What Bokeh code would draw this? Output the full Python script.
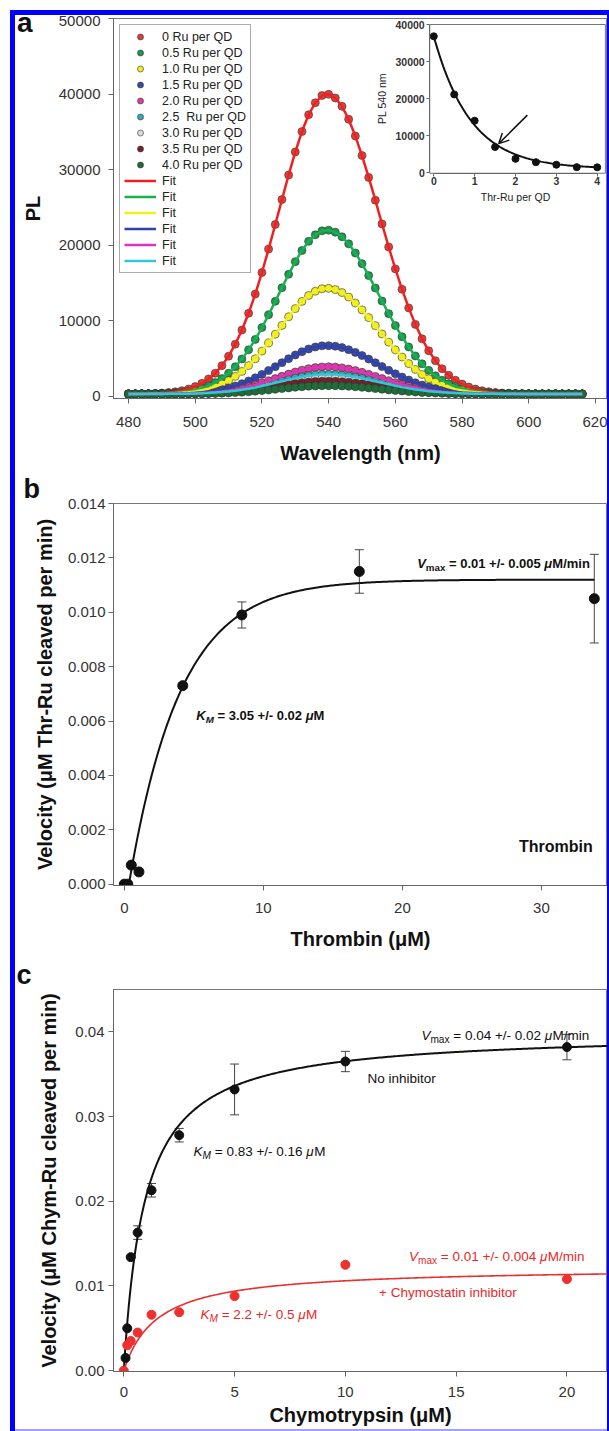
import numpy as np
from bokeh.plotting import figure
from bokeh.models import (Range1d, LinearAxis, FixedTicker, NumeralTickFormatter, Legend,
                          LegendItem, Label, Whisker, TeeHead, ColumnDataSource, Arrow,
                          OpenHead, Div, Title, GridBox)
from bokeh.layouts import column, row
from bokeh.embed import file_html
from bokeh.resources import INLINE

FONT = "Liberation Sans"

# ---------------- panel a: PL spectra ----------------
wavelength_nm = list(range(480, 617, 2))
pl_profile = [0.0002, 0.0004, 0.0007, 0.0011, 0.0018, 0.0029, 0.0047, 0.0073, 0.0111, 0.0166,
              0.0245, 0.0354, 0.0500, 0.0693, 0.0944, 0.126, 0.166, 0.213, 0.269, 0.333,
              0.405, 0.483, 0.565, 0.648, 0.730, 0.807, 0.875, 0.931, 0.971, 0.995,
              0.999, 0.987, 0.959, 0.916, 0.860, 0.795, 0.722, 0.646, 0.567, 0.490,
              0.417, 0.349, 0.287, 0.232, 0.184, 0.144, 0.111, 0.084, 0.0625, 0.0457,
              0.0329, 0.0233, 0.0162, 0.0111, 0.0075, 0.0050, 0.0032, 0.0021, 0.0013, 0.0008,
              0.0005, 0.0003, 0.0002, 0.0001, 0.0001, 0.0, 0.0, 0.0, 0.0]
ru_labels = ["0 Ru per QD", "0.5 Ru per QD", "1.0 Ru per QD", "1.5 Ru per QD", "2.0 Ru per QD",
             "2.5  Ru per QD", "3.0 Ru per QD", "3.5 Ru per QD", "4.0 Ru per QD"]
pl_peak = [39700, 21700, 14000, 6400, 3600, 2600, 2100, 1700, 1100]
pl_baseline = 300
marker_colors = ["#e0403c", "#1a9a50", "#f2ee20", "#3a4ca0", "#d8409c", "#3aa8b0",
                 "#dcdcd4", "#7a1e2c", "#1f6e3a"]
fit_colors = ["#f02020", "#18b050", "#f0f020", "#3040b0", "#e030c0", "#30c8d8"]
a_x_ticks = [480, 500, 520, 540, 560, 580, 600, 620]
a_y_ticks = [0, 10000, 20000, 30000, 40000, 50000]

# inset
ru_per_qd = [0, 0.5, 1.0, 1.5, 2.0, 2.5, 3.0, 3.5, 4.0]
pl_540 = [36800, 21100, 14000, 6900, 3700, 2800, 2100, 1450, 1400]
inset_fit_amp, inset_fit_decay, inset_fit_offset = 35800, 0.9, 1000
inset_x_ticks = [0, 1, 2, 3, 4]
inset_y_ticks = [0, 10000, 20000, 30000, 40000]
arrow_tail = (2.29, 15500)
arrow_head = (1.59, 7800)

# ---------------- panel b: thrombin ----------------
thrombin_um = [0, 0.25, 0.5, 1.05, 4.2, 8.45, 16.9, 33.8]
velocity_thr = [0, 0, 0.0007, 0.00045, 0.0073, 0.0099, 0.0115, 0.0105]
err_thr = [0, 0, 0, 0, 0.0001, 0.00048, 0.0008, 0.00163]
thr_fit_vmax, thr_fit_lag, thr_fit_tau = 0.0112, 0.33, 3.7
b_x_ticks = [0, 10, 20, 30]
b_y_ticks = [0, 0.002, 0.004, 0.006, 0.008, 0.010, 0.012, 0.014]

# ---------------- panel c: chymotrypsin ----------------
chymo_um = [0.078, 0.156, 0.3125, 0.625, 1.25, 2.5, 5, 10, 20]
vel_no_inh = [0.0015, 0.0050, 0.0134, 0.0163, 0.0213, 0.0278, 0.0332, 0.0365, 0.0382]
err_no_inh = [0, 0, 0, 0.0008, 0.0008, 0.0008, 0.003, 0.0012, 0.0015]
chymo_inh_um = [0, 0.156, 0.3125, 0.625, 1.25, 2.5, 5, 10, 20]
vel_inh = [0, 0.0030, 0.0035, 0.0045, 0.0066, 0.0069, 0.0088, 0.0125, 0.0108]
fit_no_inh_vmax, fit_no_inh_km = 0.0400, 0.95
fit_inh_vmax, fit_inh_km = 0.0122, 1.5
c_x_ticks = [0, 5, 10, 15, 20]
c_y_ticks = [0, 0.01, 0.02, 0.03, 0.04]

RED_TXT = "#e82828"

# ---------------- helpers ----------------
W_REG = {" ": 278, "+": 584, "-": 333, ".": 278, "/": 278, "=": 584, "M": 833, "V": 667,
         "K": 667, "a": 556, "i": 222, "m": 833, "n": 556, "x": 500, "\u03bc": 576}
W_BOLD = {" ": 278, "+": 584, "-": 333, ".": 278, "/": 278, "=": 584, "M": 833, "V": 667,
          "K": 722, "a": 556, "i": 278, "m": 889, "n": 611, "x": 556, "\u03bc": 611}


def text_width(s, size, bold):
    t = W_BOLD if bold else W_REG
    return sum(t.get(ch, 556) for ch in s) * size / 1000.0


def rich_label(p, x, y, pieces, color, size, bold):
    off = 0.0
    for text, kind in pieces:
        sub = kind.startswith("sub")
        ital = kind.endswith("i")
        fs = size * 0.75 if sub else size
        style = ("bold " if bold else "") + ("italic" if ital else "")
        style = style.strip() or "normal"
        lead = len(text) - len(text.lstrip(" "))
        off += text_width(" " * lead, fs, bold)
        body = text.lstrip(" ")
        p.add_layout(Label(x=x, y=y, x_offset=off, y_offset=(-4 if sub else 0), text=body,
                           text_font=FONT, text_font_size=f"{fs}px", text_font_style=style,
                           text_color=color, text_baseline="middle", text_align="left"))
        off += text_width(body, fs, bold)


def panel_title(p, letter, offset):
    p.add_layout(Title(text=letter, align="left", offset=offset, standoff=0,
                       text_font=FONT, text_font_size="27px", text_font_style="bold",
                       text_color="#111"), "above")


def style_axis(ax, standoff=8, label_standoff=10, ticks=None, fmt=None):
    ax.axis_line_color = "#666"
    ax.major_tick_line_color = "#666"
    ax.minor_tick_line_color = None
    ax.major_tick_out = 5
    ax.major_tick_in = 0
    ax.major_label_text_font = FONT
    ax.major_label_text_font_size = "15px"
    ax.major_label_text_color = "#333"
    ax.major_label_standoff = standoff
    ax.axis_label_text_font = FONT
    ax.axis_label_text_font_size = "20px"
    ax.axis_label_text_font_style = "bold"
    ax.axis_label_text_color = "#111"
    ax.axis_label_standoff = label_standoff
    if ticks is not None:
        ax.ticker = FixedTicker(ticks=ticks)
    if fmt is not None:
        ax.formatter = NumeralTickFormatter(format=fmt)


def make_fig(h, xr, yr, left, top, bottom):
    p = figure(width=592, height=h, x_range=Range1d(*xr), y_range=Range1d(*yr),
               output_backend="svg", toolbar_location=None, min_border_left=left,
               min_border_right=0, min_border_top=top, min_border_bottom=bottom)
    p.grid.visible = False
    p.outline_line_color = "#777"
    p.outline_line_width = 1
    p.background_fill_color = "white"
    p.border_fill_color = "white"
    return p


# ================= panel a =================
pa = make_fig(455, (475.5, 623.6), (-300, 50000), 98, 3, 72)
style_axis(pa.below[0], standoff=13, label_standoff=12, ticks=a_x_ticks, fmt="0")
style_axis(pa.left[0], standoff=8, label_standoff=12, ticks=a_y_ticks, fmt="0")
pa.below[0].axis_label = "Wavelength (nm)"
pa.left[0].axis_label = "PL"

wl = np.array(wavelength_nm, dtype=float)
prof = np.array(pl_profile)
items = []
for lab, amp, col in zip(ru_labels, pl_peak, marker_colors):
    r = pa.scatter(wl, pl_baseline + amp * prof, size=8, fill_color=col, line_color="#333",
                   line_width=0.6)
    items.append(LegendItem(label=lab, renderers=[r]))
for amp, col in zip(pl_peak[:6], fit_colors):
    r = pa.line(wl, pl_baseline + amp * prof, line_color=col, line_width=2.5)
    items.append(LegendItem(label="Fit", renderers=[r]))

legend = Legend(items=items, location="top_left", margin=6, padding=4, spacing=1,
                label_height=15, glyph_height=15, glyph_width=32, label_standoff=6,
                label_text_font=FONT, label_text_font_size="12.5px", label_text_color="#222",
                border_line_color="#555", border_line_width=1, background_fill_alpha=1)
pa.add_layout(legend)

# inset via extra ranges
pa.extra_x_ranges = {"ix": Range1d(-7.841, 4.252)}
pa.extra_y_ranges = {"iy": Range1d(-61081, 41622)}
pa.quad(left=[-0.1], right=[4.2], bottom=[-200], top=[40000], x_range_name="ix",
        y_range_name="iy", fill_color="white", line_color="#777", line_width=1)
ix_fit = np.linspace(0, 4, 120)
pa.line(ix_fit, inset_fit_amp * np.exp(-ix_fit / inset_fit_decay) + inset_fit_offset,
        x_range_name="ix", y_range_name="iy", line_color="#111", line_width=2)
pa.scatter(ru_per_qd, pl_540, size=7, fill_color="#111", line_color="#111",
           x_range_name="ix", y_range_name="iy")
pa.add_layout(Arrow(end=OpenHead(size=10, line_width=1.5, line_color="#111"),
                    x_start=arrow_tail[0], y_start=arrow_tail[1],
                    x_end=arrow_head[0], y_end=arrow_head[1], line_width=1.5,
                    line_color="#111", x_range_name="ix", y_range_name="iy"))


def style_inset_axis(ax, ticks, label, standoff, lstandoff):
    ax.ticker = FixedTicker(ticks=ticks)
    ax.formatter = NumeralTickFormatter(format="0")
    ax.axis_line_color = "#666"
    ax.major_tick_line_color = "#666"
    ax.minor_tick_line_color = None
    ax.major_tick_out = 3
    ax.major_tick_in = 0
    ax.major_label_text_font = FONT
    ax.major_label_text_font_size = "10.5px"
    ax.major_label_text_font_style = "bold"
    ax.major_label_text_color = "#333"
    ax.major_label_standoff = standoff
    ax.axis_label = label
    ax.axis_label_text_font = FONT
    ax.axis_label_text_font_size = "10.5px"
    ax.axis_label_text_font_style = "normal"
    ax.axis_label_text_color = "#222"
    ax.axis_label_standoff = lstandoff


iy_axis = LinearAxis(x_range_name="ix", y_range_name="iy", fixed_location=-0.1,
                     bounds=(0, 40000))
style_inset_axis(iy_axis, inset_y_ticks, "PL 540 nm", 2, 4)
ix_axis = LinearAxis(x_range_name="ix", y_range_name="iy", fixed_location=-200, bounds=(0, 4))
style_inset_axis(ix_axis, inset_x_ticks, "Thr-Ru per QD", 1, 2)
pa.add_layout(iy_axis, "left")
pa.add_layout(ix_axis, "below")

# panel letter "a" overlaid on the top-left corner of panel a
letter_a = Div(text="<div style=\"font: bold 28px/16px 'Liberation Sans', Arial, sans-serif; "
                    "color: #111;\">a</div>", width=30, height=30, margin=(0, 0, 0, 2))
panel_a = GridBox(children=[(pa, 0, 0), (letter_a, 0, 0)])

# ================= panel b =================
pb = make_fig(487, (-0.78, 34.75), (-0.00005, 0.014), 91, 33, 72)
style_axis(pb.below[0], standoff=12, label_standoff=12, ticks=b_x_ticks, fmt="0")
style_axis(pb.left[0], standoff=3, label_standoff=9, ticks=b_y_ticks, fmt="0.000")
pb.below[0].axis_label = "Thrombin (\u03bcM)"
pb.left[0].axis_label = "Velocity (\u03bcM Thr-Ru cleaved per min)"

xb = np.linspace(thr_fit_lag, 33.8, 300)
pb.line(xb, thr_fit_vmax * (1 - np.exp(-(xb - thr_fit_lag) / thr_fit_tau)),
        line_color="#111", line_width=2)
eb = [(x, y, e) for x, y, e in zip(thrombin_um, velocity_thr, err_thr) if e > 0]
src_b = ColumnDataSource(dict(x=[t[0] for t in eb], upper=[t[1] + t[2] for t in eb],
                              lower=[t[1] - t[2] for t in eb]))
pb.add_layout(Whisker(source=src_b, base="x", upper="upper", lower="lower",
                      line_color="#444", line_width=1,
                      upper_head=TeeHead(size=9, line_color="#444", line_width=1),
                      lower_head=TeeHead(size=9, line_color="#444", line_width=1)))
pb.scatter(thrombin_um, velocity_thr, size=10, fill_color="#111", line_color="#111")

rich_label(pb, 21.06, 0.01179, [("V", "i"), ("max", "sub"), (" = 0.01 +/- 0.005 ", "n"),
                                ("\u03bc", "i"), ("M/min", "n")], "#111", 13, True)
rich_label(pb, 5.18, 0.00619, [("K", "i"), ("M", "subi"), (" = 3.05 +/- 0.02 ", "n"),
                               ("\u03bc", "i"), ("M", "n")], "#111", 13, True)
pb.add_layout(Label(x=33.69, y=0.0014, text="Thrombin", text_font=FONT, text_font_size="16px",
                    text_font_style="bold", text_color="#111", text_align="right",
                    text_baseline="middle"))
panel_title(pb, "b", -90)

# ================= panel c =================
pc = make_fig(472, (-0.465, 21.83), (-0.0001, 0.045), 98, 32, 58)
style_axis(pc.below[0], standoff=10, label_standoff=4, ticks=c_x_ticks, fmt="0")
style_axis(pc.left[0], standoff=4, label_standoff=12, ticks=c_y_ticks, fmt="0.00")
pc.below[0].axis_label = "Chymotrypsin (\u03bcM)"
pc.left[0].axis_label = "Velocity (\u03bcM Chym-Ru cleaved per min)"

xc = np.linspace(0, 21.83, 400)
pc.line(xc, fit_no_inh_vmax * xc / (fit_no_inh_km + xc), line_color="#111", line_width=2)
pc.line(xc, fit_inh_vmax * xc / (fit_inh_km + xc), line_color="#e83030", line_width=1.6)
ec = [(x, y, e) for x, y, e in zip(chymo_um, vel_no_inh, err_no_inh) if e > 0]
src_c = ColumnDataSource(dict(x=[t[0] for t in ec], upper=[t[1] + t[2] for t in ec],
                              lower=[t[1] - t[2] for t in ec]))
pc.add_layout(Whisker(source=src_c, base="x", upper="upper", lower="lower",
                      line_color="#444", line_width=1,
                      upper_head=TeeHead(size=9, line_color="#444", line_width=1),
                      lower_head=TeeHead(size=9, line_color="#444", line_width=1)))
pc.scatter(chymo_inh_um, vel_inh, size=9, fill_color="#ee3030", line_color="#ee3030")
pc.scatter(chymo_um, vel_no_inh, size=9, fill_color="#111", line_color="#111")

rich_label(pc, 13.43, 0.0396, [("V", "i"), ("max", "sub"), (" = 0.04 +/- 0.02 ", "n"),
                               ("\u03bc", "i"), ("M/min", "n")], "#111", 13.5, False)
pc.add_layout(Label(x=11.0, y=0.03455, text="No inhibitor", text_font=FONT,
                    text_font_size="13.5px", text_color="#111", text_baseline="middle"))
rich_label(pc, 3.15, 0.02583, [("K", "i"), ("M", "subi"), (" = 0.83 +/- 0.16 ", "n"),
                               ("\u03bc", "i"), ("M", "n")], "#111", 13.5, False)
rich_label(pc, 12.87, 0.01344, [("V", "i"), ("max", "sub"), (" = 0.01 +/- 0.004 ", "n"),
                                ("\u03bc", "i"), ("M/min", "n")], RED_TXT, 13.5, False)
pc.add_layout(Label(x=11.52, y=0.0092, text="+ Chymostatin inhibitor", text_font=FONT,
                    text_font_size="13.5px", text_color=RED_TXT, text_baseline="middle"))
rich_label(pc, 3.46, 0.0066, [("K", "i"), ("M", "subi"), (" = 2.2 +/- 0.5 ", "n"),
                              ("\u03bc", "i"), ("M", "n")], RED_TXT, 13.5, False)
panel_title(pc, "c", -97)

# ================= page frame =================
BLUE = "#0000ff"


def strip(w, h, color=None):
    st = {"background-color": color} if color else {}
    return Div(text="", width=w, height=h, margin=0, styles=st)


inner = column(strip(592, 5, BLUE), panel_a, pb, pc, strip(592, 2, "#9fa0ff"), spacing=0)
body = row(strip(10, 1421), strip(5, 1421, BLUE), inner, strip(2, 1421, BLUE), spacing=0)
page = column(strip(609, 10), body, spacing=0)

open("out.html", "w").write(file_html(page, INLINE))
